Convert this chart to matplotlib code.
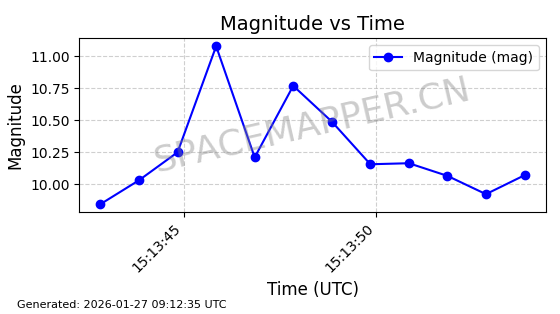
import matplotlib
matplotlib.use("Agg")
import matplotlib.pyplot as plt
import matplotlib.dates as mdates
import pandas as pd

start_time = "2026-01-27 15:13:42.843"
seconds_offset = [0, 1, 2, 3, 4, 5, 6, 7, 8, 9, 10, 11]
magnitude = [9.844, 10.031, 10.25, 11.08, 10.21, 10.77, 10.49, 10.156, 10.164, 10.065, 9.922, 10.07]
times = pd.to_datetime(start_time) + pd.to_timedelta(seconds_offset, unit="s")

fig = plt.figure(figsize=(5.6, 3.14), dpi=100)
ax = fig.add_axes([0.1416, 0.3248, 0.8329, 0.5532])
ax.plot(times, magnitude, marker="o", color="blue", linestyle="-", label="Magnitude (mag)")
ax.set_title("Magnitude vs Time", fontsize=14)
ax.set_xlabel("Time (UTC)", fontsize=12)
ax.set_ylabel("Magnitude", fontsize=12)
ax.grid(True, linestyle="--", alpha=0.6)
ax.legend(loc="upper right")
ax.xaxis.set_major_formatter(mdates.DateFormatter("%H:%M:%S"))
ax.xaxis.set_major_locator(mdates.SecondLocator(bysecond=range(0, 60, 5)))
plt.setp(ax.get_xticklabels(), rotation=45, ha="right")
ax.text(0.5, 0.5, "SPACEMAPPER.CN", transform=ax.transAxes, fontsize=26,
        color="gray", alpha=0.4, rotation=13, ha="center", va="center")
fig.text(0.03, 0.02, "Generated: 2026-01-27 09:12:35 UTC", fontsize=8)
fig.savefig("out.png", dpi=100)
